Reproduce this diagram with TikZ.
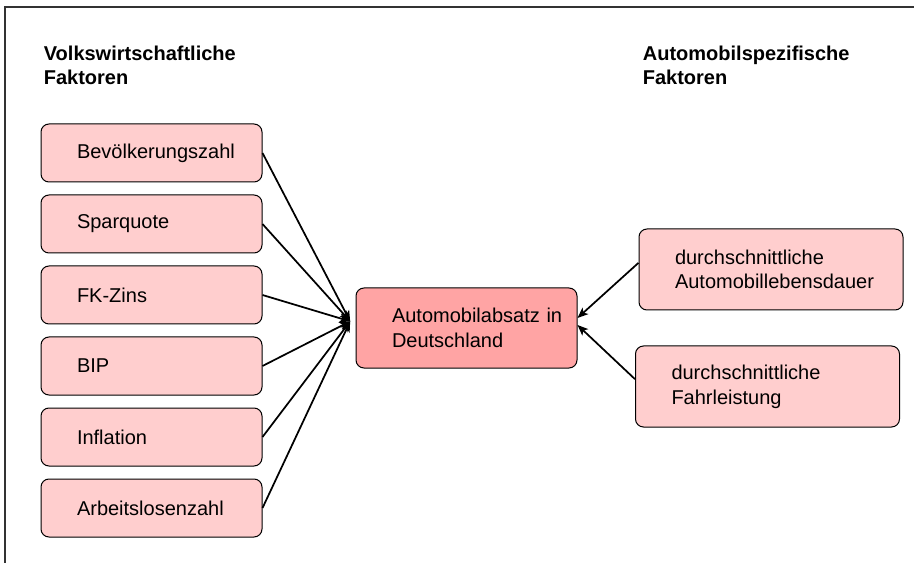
\documentclass[tikz,border=0pt]{standalone}
\usepackage{fontspec}
\setmainfont{Liberation Sans}
\usetikzlibrary{arrows.meta,positioning}

\definecolor{lightrose}{RGB}{255,206,206}
\definecolor{rose}{RGB}{255,164,164}

\begin{document}
\begin{tikzpicture}[x=0.75pt,y=-0.75pt,->,>={Stealth[length=8pt,width=6.5pt,inset=2pt]},
        line width=1.3pt,node distance=9pt,
        box/.style={draw,line width=0.75pt,rounded corners=6pt,inner xsep=4pt,
          align=left,execute at begin node={\leftskip=23pt\relax},
          font=\fontsize{15pt}{18.5pt}\selectfont},
        factor/.style={box,fill=lightrose,text width=157.75pt,minimum height=43.5pt},
        autofactor/.style={box,fill=lightrose,text width=190pt,minimum height=60.75pt},
        target/.style={box,fill=rose,text width=157.75pt,minimum height=60pt},
        heading/.style={inner sep=0pt,anchor=base west,align=left,
          font=\bfseries\fontsize{15pt}{18pt}\selectfont}]

  \useasboundingbox (0,0) rectangle (915,563);
  \draw[-,line width=1.1pt,black!80] (5,563) -- (5,7) -- (914,7);

  % base anchor sits on the last line
  \node[heading] (vw) at (43,85) {Volkswirtschaftliche\\Faktoren};
  \node[heading] (am) at (642,85) {Automobilspezifische\\Faktoren};

  \node[factor] (bev) at (151.5,153) {Bevölkerungszahl};
  \node[factor] (spar) [below=of bev] {Sparquote};
  \node[factor] (zins) [below=of spar] {FK-Zins};
  \node[factor] (bip) [below=of zins] {BIP};
  \node[factor] (infl) [below=of bip] {Inflation};
  \node[factor] (arb) [below=of infl] {Arbeitslosenzahl};

  \node[target] (absatz) at (466.5,328) {Automobilabsatz in\\Deutschland};

  \node[autofactor] (dauer) at (771,269.5) {durchschnittliche\\Automobillebensdauer};
  \node[autofactor] (fahr) at (767.5,386.5) {durchschnittliche\\Fahrleistung};

  \coordinate (hub) at ([xshift=-4pt,yshift=5pt]absatz.west);

  \path (bev.east)  edge (hub)
        (spar.east) edge (hub)
        (zins.east) edge (hub)
        (bip.east)  edge (hub)
        (infl.east) edge (hub)
        (arb.east)  edge (hub)
        ([yshift=5pt]dauer.west) edge ([yshift=7.5pt]absatz.east)
        ([yshift=5.5pt]fahr.west) edge ([yshift=2.25pt]absatz.east);

\end{tikzpicture}
\end{document}
